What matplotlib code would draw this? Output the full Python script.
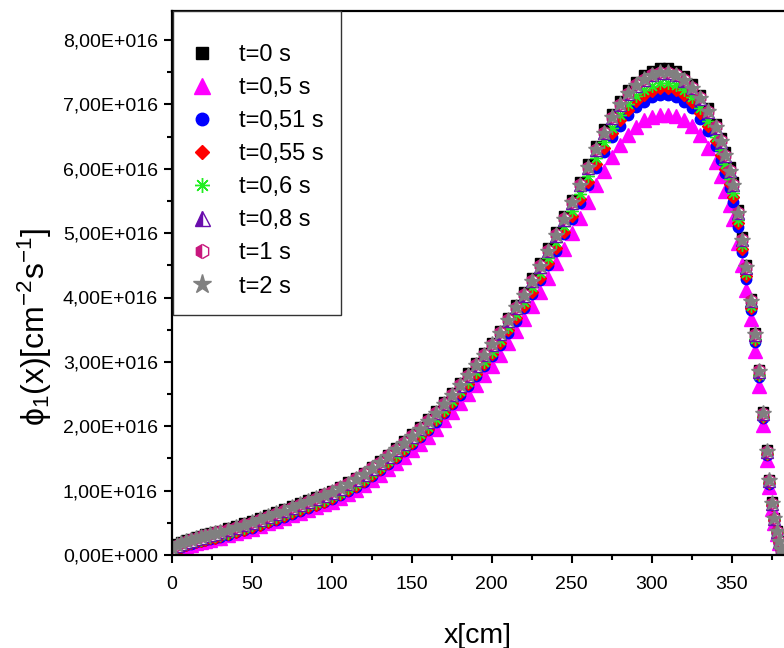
import numpy as np
import matplotlib
matplotlib.use("Agg")
import matplotlib.pyplot as plt
from matplotlib.ticker import MultipleLocator, FuncFormatter

plt.rcParams['font.family'] = ['Liberation Sans', 'DejaVu Sans']
plt.rcParams['mathtext.fontset'] = 'custom'
plt.rcParams['mathtext.rm'] = 'Liberation Sans'
plt.rcParams['mathtext.it'] = 'Liberation Sans:italic'
plt.rcParams['mathtext.default'] = 'regular'

# position along the core [cm]
x_cm = [0, 3, 6, 9, 12, 15, 18, 21, 24, 27, 30,
        35, 40, 45, 50, 55, 60, 65, 70, 75, 80, 85, 90, 95, 100,
        105, 110, 115, 120, 125, 130, 135, 140, 145, 150, 155, 160, 165, 170, 175, 180, 185, 190, 195, 200,
        205, 210, 215, 220, 225, 230, 235, 240, 245, 250, 255, 260, 265, 270, 275, 280, 285, 290, 295, 300,
        305, 310, 315, 320, 325, 330, 335, 340,
        343, 346, 349, 351, 354, 356.5, 359, 362, 364.5, 367, 369.5, 372, 373.5, 375, 376.5, 378, 379.5, 381, 382.5]

# flux values in units of 1e16 cm^-2 s^-1
phi_t0 = [0.13, 0.17, 0.20, 0.23, 0.255, 0.28, 0.30, 0.32, 0.34, 0.36, 0.38,
          0.415, 0.45, 0.49, 0.53, 0.575, 0.62, 0.665, 0.71, 0.76, 0.81, 0.855, 0.90, 0.95, 1.00,
          1.06, 1.13, 1.20, 1.28, 1.37, 1.46, 1.56, 1.66, 1.77, 1.88, 1.99, 2.11, 2.24, 2.38, 2.52, 2.67, 2.82, 2.98, 3.14, 3.30,
          3.48, 3.68, 3.88, 4.08, 4.30, 4.53, 4.77, 5.01, 5.26, 5.52, 5.79, 6.07, 6.35, 6.61, 6.85, 7.05, 7.22, 7.35, 7.45, 7.52,
          7.56, 7.56, 7.52, 7.44, 7.32, 7.15, 6.94, 6.70,
          6.48, 6.26, 6.02, 5.80, 5.36, 4.94, 4.50, 3.98, 3.45, 2.88, 2.22, 1.63, 1.17, 0.82, 0.58, 0.38, 0.22, 0.10, 0.03]

phi_t05 = [0.05, 0.09, 0.11, 0.14, 0.16, 0.185, 0.20, 0.22, 0.24, 0.26, 0.27,
           0.31, 0.34, 0.37, 0.41, 0.45, 0.49, 0.53, 0.57, 0.62, 0.66, 0.70, 0.74, 0.79, 0.83,
           0.88, 0.95, 1.01, 1.09, 1.17, 1.25, 1.34, 1.43, 1.53, 1.63, 1.73, 1.84, 1.96, 2.09, 2.22, 2.36, 2.50, 2.64, 2.79, 2.94,
           3.11, 3.29, 3.48, 3.66, 3.87, 4.08, 4.30, 4.53, 4.76, 5.00, 5.24, 5.49, 5.74, 5.97, 6.19, 6.37, 6.53, 6.65, 6.75, 6.81,
           6.84, 6.84, 6.82, 6.76, 6.67, 6.52, 6.33, 6.10,
           5.88, 5.66, 5.43, 5.22, 4.84, 4.50, 4.12, 3.66, 3.17, 2.63, 2.02, 1.48, 1.05, 0.72, 0.50, 0.32, 0.18, 0.08, 0.02]

phi_t051 = [0.055, 0.095, 0.125, 0.15, 0.175, 0.195, 0.215, 0.235, 0.255, 0.265, 0.285,
            0.315, 0.355, 0.385, 0.425, 0.465, 0.51, 0.55, 0.59, 0.64, 0.69, 0.73, 0.77, 0.82, 0.87,
            0.93, 1.00, 1.06, 1.14, 1.23, 1.32, 1.41, 1.50, 1.61, 1.72, 1.83, 1.94, 2.07, 2.20, 2.34, 2.49, 2.63, 2.78, 2.93, 3.09,
            3.26, 3.45, 3.64, 3.83, 4.05, 4.27, 4.50, 4.73, 4.98, 5.22, 5.47, 5.74, 6.01, 6.26, 6.49, 6.67, 6.83, 6.96, 7.04, 7.11,
            7.14, 7.14, 7.11, 7.04, 6.94, 6.78, 6.59, 6.35,
            6.14, 5.93, 5.70, 5.49, 5.09, 4.70, 4.29, 3.80, 3.31, 2.77, 2.13, 1.55, 1.10, 0.77, 0.54, 0.34, 0.19, 0.08, 0.02]

phi_t055 = [0.06, 0.10, 0.13, 0.155, 0.18, 0.20, 0.22, 0.24, 0.26, 0.27, 0.29,
            0.32, 0.36, 0.39, 0.43, 0.47, 0.52, 0.56, 0.60, 0.65, 0.70, 0.74, 0.78, 0.83, 0.88,
            0.94, 1.01, 1.07, 1.15, 1.24, 1.33, 1.43, 1.52, 1.63, 1.74, 1.85, 1.96, 2.09, 2.22, 2.36, 2.51, 2.65, 2.81, 2.96, 3.12,
            3.29, 3.49, 3.68, 3.87, 4.09, 4.31, 4.54, 4.77, 5.02, 5.27, 5.53, 5.80, 6.08, 6.33, 6.56, 6.75, 6.92, 7.05, 7.14, 7.21,
            7.25, 7.25, 7.22, 7.14, 7.03, 6.87, 6.67, 6.43,
            6.22, 6.00, 5.77, 5.56, 5.15, 4.76, 4.34, 3.84, 3.34, 2.79, 2.15, 1.57, 1.12, 0.78, 0.55, 0.35, 0.20, 0.09, 0.02]

phi_t06 = [0.08, 0.12, 0.15, 0.175, 0.20, 0.22, 0.24, 0.26, 0.285, 0.30, 0.315,
           0.345, 0.385, 0.42, 0.46, 0.50, 0.55, 0.59, 0.63, 0.68, 0.73, 0.77, 0.81, 0.86, 0.91,
           0.97, 1.04, 1.10, 1.18, 1.27, 1.36, 1.46, 1.55, 1.66, 1.77, 1.88, 1.99, 2.12, 2.25, 2.39, 2.54, 2.69, 2.85, 3.00, 3.16,
           3.34, 3.54, 3.74, 3.93, 4.16, 4.38, 4.62, 4.86, 5.11, 5.34, 5.61, 5.88, 6.16, 6.41, 6.64, 6.83, 7.00, 7.13, 7.22, 7.29,
           7.33, 7.33, 7.30, 7.22, 7.11, 6.94, 6.74, 6.50,
           6.29, 6.07, 5.84, 5.63, 5.21, 4.81, 4.38, 3.87, 3.36, 2.80, 2.16, 1.58, 1.13, 0.79, 0.56, 0.36, 0.21, 0.09, 0.03]

phi_t08 = [0.10, 0.14, 0.17, 0.20, 0.225, 0.25, 0.27, 0.29, 0.31, 0.33, 0.35,
           0.385, 0.42, 0.46, 0.50, 0.545, 0.59, 0.635, 0.68, 0.73, 0.78, 0.825, 0.87, 0.92, 0.97,
           1.03, 1.10, 1.17, 1.25, 1.34, 1.43, 1.53, 1.63, 1.73, 1.84, 1.95, 2.07, 2.20, 2.34, 2.48, 2.63, 2.78, 2.94, 3.10, 3.26,
           3.44, 3.64, 3.84, 4.03, 4.25, 4.48, 4.72, 4.96, 5.21, 5.47, 5.74, 6.01, 6.29, 6.55, 6.79, 6.99, 7.16, 7.29, 7.38, 7.45,
           7.49, 7.49, 7.45, 7.37, 7.25, 7.09, 6.88, 6.64,
           6.42, 6.20, 5.96, 5.74, 5.31, 4.89, 4.46, 3.94, 3.42, 2.85, 2.19, 1.60, 1.15, 0.80, 0.56, 0.36, 0.20, 0.085, 0.025]

phi_t1 = [0.12, 0.16, 0.19, 0.22, 0.245, 0.27, 0.29, 0.31, 0.33, 0.35, 0.37,
          0.405, 0.44, 0.48, 0.52, 0.565, 0.61, 0.655, 0.70, 0.75, 0.80, 0.845, 0.89, 0.94, 0.99,
          1.05, 1.12, 1.19, 1.27, 1.36, 1.45, 1.55, 1.65, 1.75, 1.86, 1.97, 2.09, 2.22, 2.36, 2.50, 2.65, 2.80, 2.96, 3.12, 3.28,
          3.46, 3.66, 3.86, 4.05, 4.27, 4.50, 4.74, 4.98, 5.23, 5.49, 5.76, 6.03, 6.31, 6.57, 6.81, 7.01, 7.18, 7.31, 7.40, 7.47,
          7.51, 7.51, 7.47, 7.39, 7.27, 7.11, 6.90, 6.66,
          6.44, 6.22, 5.98, 5.76, 5.33, 4.91, 4.48, 3.96, 3.44, 2.87, 2.21, 1.62, 1.16, 0.81, 0.575, 0.375, 0.215, 0.095, 0.03]

phi_t2 = [0.11, 0.15, 0.18, 0.21, 0.235, 0.26, 0.28, 0.30, 0.32, 0.34, 0.36,
          0.395, 0.43, 0.47, 0.51, 0.555, 0.60, 0.645, 0.69, 0.74, 0.79, 0.835, 0.88, 0.93, 0.98,
          1.04, 1.11, 1.18, 1.26, 1.35, 1.44, 1.54, 1.64, 1.74, 1.85, 1.96, 2.08, 2.21, 2.35, 2.49, 2.64, 2.79, 2.95, 3.11, 3.27,
          3.45, 3.65, 3.85, 4.04, 4.26, 4.49, 4.73, 4.97, 5.22, 5.48, 5.75, 6.02, 6.30, 6.56, 6.80, 7.00, 7.17, 7.30, 7.39, 7.46,
          7.50, 7.50, 7.46, 7.38, 7.26, 7.10, 6.89, 6.65,
          6.43, 6.21, 5.97, 5.75, 5.32, 4.90, 4.47, 3.95, 3.43, 2.86, 2.20, 1.61, 1.16, 0.81, 0.57, 0.37, 0.21, 0.09, 0.03]

labels = ['t=0 s', 't=0,5 s', 't=0,51 s', 't=0,55 s', 't=0,6 s', 't=0,8 s', 't=1 s', 't=2 s']
series = [phi_t0, phi_t05, phi_t051, phi_t055, phi_t06, phi_t08, phi_t1, phi_t2]

styles = [
    dict(marker='s', color='black', ms=7.5),
    dict(marker='^', color='#FF00FF', ms=9.5),
    dict(marker='o', color='#0000FF', ms=7.5),
    dict(marker='D', color='#FF0000', ms=6.3),
    dict(marker=(8, 2, 0), color='#22EE22', ms=9, mew=1.0),
    dict(marker='^', color='#6A0DAD', ms=9, fillstyle='left', markerfacecoloralt='white', mew=1.0),
    dict(marker='h', color='#C8177D', ms=8.5, fillstyle='left', markerfacecoloralt='white', mew=1.0),
    dict(marker='*', color='#808080', ms=11.5),
]

fig = plt.figure(figsize=(7.84, 6.48), dpi=100)
ax = fig.add_axes([171.7 / 784, 1 - 555 / 648, (784 - 171.7) / 784, (555 - 10.5) / 648])

xv = np.array(x_cm)
for lab, ys, st in zip(labels, series, styles):
    st = dict(st)
    col = st.pop('color')
    kw = dict(linestyle='none', mfc=col, mec=col)
    kw.update(st)
    ax.plot(xv, np.array(ys) * 1e16, label=lab, **kw)

ax.set_xlim(0, (784 - 171.7) / 1.6)
ax.set_ylim(0, (555 - 10.5) / 64.375 * 1e16)

ax.xaxis.set_major_locator(MultipleLocator(50))
ax.xaxis.set_minor_locator(MultipleLocator(25))
ax.yaxis.set_major_locator(MultipleLocator(1e16))
ax.yaxis.set_minor_locator(MultipleLocator(0.5e16))


def yfmt(v, pos):
    m = v / 1e16
    if abs(m) < 1e-9:
        return '0,00E+000'
    return ('%.2f' % m).replace('.', ',') + 'E+016'


ax.yaxis.set_major_formatter(FuncFormatter(yfmt))

ax.spines['right'].set_visible(False)
for s in ['left', 'bottom', 'top']:
    ax.spines[s].set_linewidth(1.6)
ax.tick_params(which='major', direction='out', length=6, width=1.5, labelsize=14)
ax.tick_params(axis='y', which='major', pad=4)
ax.tick_params(axis='x', which='major', pad=9)
ax.tick_params(which='minor', direction='out', length=3.5, width=1.5)
ax.tick_params(top=False, right=False, which='both')

ax.set_xlabel('x[cm]', fontsize=20.5, labelpad=22)
ax.set_ylabel('ϕ$_1$(x)[cm$^{-2}$s$^{-1}$]', fontsize=23)
ax.yaxis.set_label_coords(-0.192, 0.42)

leg = ax.legend(loc='upper left', bbox_to_anchor=(0.002, 0.999), borderaxespad=0,
                fontsize=17, frameon=True, fancybox=False, framealpha=1,
                edgecolor='#333333', borderpad=0.75, labelspacing=0.47,
                handlelength=1.0, handletextpad=1.05, markerscale=1.2,
                title=' ', title_fontsize=3)
leg.get_frame().set_linewidth(1.0)

fig.savefig('out.png', dpi=100)
